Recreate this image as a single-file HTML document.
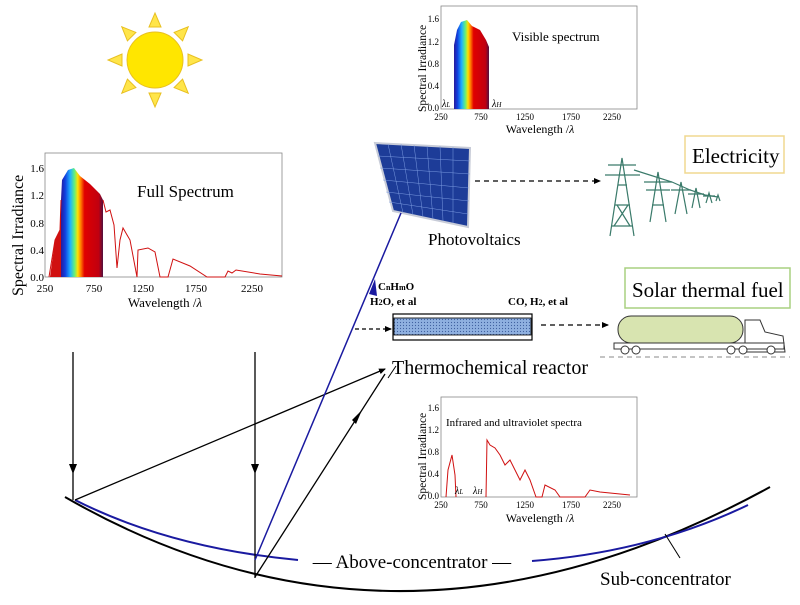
<!DOCTYPE html>
<html><head><meta charset="utf-8"><style>
body{margin:0;background:#fff;}
svg{display:block;font-family:"Liberation Serif",serif;}
</style></head><body>
<svg width="800" height="605" viewBox="0 0 800 605" xmlns="http://www.w3.org/2000/svg">
<defs>
<marker id="ah" markerWidth="8" markerHeight="8" refX="6" refY="4" orient="auto" markerUnits="userSpaceOnUse"><path d="M0,1 L7,4 L0,7 z" fill="#000"/></marker>
<linearGradient id="rb" x1="0" x2="1">
<stop offset="0" stop-color="#2a1a9a"/><stop offset="0.1" stop-color="#1040e0"/><stop offset="0.22" stop-color="#20b0ff"/><stop offset="0.32" stop-color="#60f080"/><stop offset="0.4" stop-color="#ffe000"/><stop offset="0.48" stop-color="#ff7000"/><stop offset="0.56" stop-color="#e00000"/><stop offset="0.9" stop-color="#c00010"/><stop offset="1" stop-color="#501040"/>
</linearGradient>
<pattern id="dots" width="3" height="3" patternUnits="userSpaceOnUse"><rect width="3" height="3" fill="#8fb0e0"/><circle cx="1.5" cy="1.5" r="0.6" fill="#4060a0"/></pattern>
</defs>

<!-- Sun -->
<g fill="#ffe54a" stroke="#e8c020" stroke-width="1">
<circle cx="155" cy="60" r="28" fill="#ffe600"/>
<g transform="translate(155,60)">
<polygon points="-6,-33 6,-33 0,-47"/>
<polygon points="-6,33 6,33 0,47"/>
<polygon points="-33,-6 -33,6 -47,0"/>
<polygon points="33,-6 33,6 47,0"/>
<g transform="rotate(45)"><polygon points="-6,-33 6,-33 0,-47"/><polygon points="-6,33 6,33 0,47"/><polygon points="-33,-6 -33,6 -47,0"/><polygon points="33,-6 33,6 47,0"/></g>
</g></g>

<!-- Full spectrum chart -->
<g>
<rect x="45" y="153" width="237" height="124" fill="#fff" stroke="#888" stroke-width="0.8"/>
<path d="M50,277 L55,240 L60,230 L61,200 L62,277 Z" fill="#d01010"/>
<path d="M61,277 L61,200 L62,180 L68,170 L74,168 L80,176 L90,184 L100,194 L103,200 L103,277 Z" fill="url(#rb)"/>
<path d="M49,277 L55,240 L60,230 L61,200 M103,200 L106,212 L110,210 L114,225 L117,268 L120,240 L123,228 L130,240 L137,277 L138,250 L148,248 L155,252 L160,277 L168,277 L173,259 L190,266 L207,277 L225,277 L228,271 L232,273 L236,270 L260,274 L282,276" fill="none" stroke="#d01010" stroke-width="1"/>
<text x="137" y="197" font-size="17">Full Spectrum</text>
<g font-size="11" text-anchor="end"><text x="44" y="172">1.6</text><text x="44" y="199">1.2</text><text x="44" y="227">0.8</text><text x="44" y="254">0.4</text><text x="44" y="281">0.0</text></g>
<g font-size="11" text-anchor="middle"><text x="45" y="292">250</text><text x="94" y="292">750</text><text x="143" y="292">1250</text><text x="196" y="292">1750</text><text x="252" y="292">2250</text></g>
<text x="165" y="307" font-size="13" text-anchor="middle">Wavelength /<tspan font-style="italic">λ</tspan></text>
<text transform="translate(23,296) rotate(-90)" font-size="16">Spectral Irradiance</text>
</g>

<!-- Visible chart -->
<g>
<rect x="441" y="6" width="196" height="103" fill="#fff" stroke="#888" stroke-width="0.8"/>
<path d="M454,109 L454,45 L457,30 L461,22 L467,20 L472,26 L480,30 L486,40 L489,47 L489,109 Z" fill="url(#rb)"/>
<text x="512" y="41" font-size="13">Visible spectrum</text>
<g font-size="9" text-anchor="end"><text x="439" y="22">1.6</text><text x="439" y="45">1.2</text><text x="439" y="67">0.8</text><text x="439" y="89">0.4</text><text x="439" y="111">0.0</text></g>
<g font-size="9" text-anchor="middle"><text x="441" y="120">250</text><text x="481" y="120">750</text><text x="525" y="120">1250</text><text x="571" y="120">1750</text><text x="612" y="120">2250</text></g>
<text x="540" y="133" font-size="12" text-anchor="middle">Wavelength /<tspan font-style="italic">λ</tspan></text>
<text transform="translate(426,112) rotate(-90)" font-size="11.5">Spectral Irradiance</text>
<text x="442" y="107" font-size="10" font-style="italic">λ<tspan font-size="7">L</tspan></text>
<text x="492" y="107" font-size="10" font-style="italic">λ<tspan font-size="7">H</tspan></text>
</g>

<!-- IR chart -->
<g>
<rect x="441" y="397" width="196" height="100" fill="#fff" stroke="#888" stroke-width="0.8"/>
<path d="M446,497 L448,470 L452,455 L455,475 L456,497 M486,497 L487,440 L490,445 L495,448 L500,455 L505,465 L510,460 L515,470 L520,480 L525,470 L530,480 L536,497 L542,497 L545,485 L555,490 L560,497 L585,497 L590,490 L600,492 L630,495" fill="none" stroke="#d01010" stroke-width="1"/>
<text x="446" y="426" font-size="11">Infrared and ultraviolet spectra</text>
<g font-size="9" text-anchor="end"><text x="439" y="411">1.6</text><text x="439" y="433">1.2</text><text x="439" y="455">0.8</text><text x="439" y="477">0.4</text><text x="439" y="499">0.0</text></g>
<g font-size="9" text-anchor="middle"><text x="441" y="508">250</text><text x="481" y="508">750</text><text x="525" y="508">1250</text><text x="571" y="508">1750</text><text x="612" y="508">2250</text></g>
<text x="540" y="522" font-size="12" text-anchor="middle">Wavelength /<tspan font-style="italic">λ</tspan></text>
<text transform="translate(426,500) rotate(-90)" font-size="11.5">Spectral Irradiance</text>
<text x="455" y="494" font-size="10" font-style="italic">λ<tspan font-size="7">L</tspan></text>
<text x="473" y="494" font-size="10" font-style="italic">λ<tspan font-size="7">H</tspan></text>
</g>

<!-- Solar panel -->
<polygon points="375,143 470,148 468,227 393,211" fill="#1d3c98" stroke="#c8ccd8" stroke-width="2"/>
<g stroke="#7a9ae0" stroke-width="0.5">
<line x1="388" y1="144" x2="403" y2="213"/><line x1="401" y1="144" x2="413" y2="215"/><line x1="414" y1="145" x2="423" y2="217"/><line x1="427" y1="146" x2="433" y2="219"/><line x1="440" y1="146" x2="443" y2="221"/><line x1="453" y1="147" x2="453" y2="223"/>
<line x1="378" y1="156" x2="470" y2="161"/><line x1="380" y1="168" x2="470" y2="174"/><line x1="383" y1="180" x2="469" y2="188"/><line x1="386" y1="192" x2="469" y2="201"/><line x1="389" y1="202" x2="468" y2="214"/>
</g>
<text x="428" y="245" font-size="17">Photovoltaics</text>

<!-- Electricity -->
<line x1="475" y1="181" x2="600" y2="181" stroke="#000" stroke-width="1.2" stroke-dasharray="5,4" marker-end="url(#ah)"/>
<rect x="685" y="136" width="99" height="37" fill="#fff" stroke="#f0d890" stroke-width="1.5"/>
<text x="692" y="163" font-size="21">Electricity</text>
<g stroke="#3a7a6a" stroke-width="1.2" fill="none">
<path d="M610,236 L622,158 L634,236 M612,226 L632,226 M615,205 L630,205 M618,185 L627,185 M605,175 L640,175 M608,165 L636,165 M614,226 L628,205 M630,226 L617,205"/>
<path d="M650,222 L658,172 L666,222 M644,182 L672,182 M646,190 L670,190 M652,205 L664,205"/>
<path d="M675,214 L681,182 L687,214 M671,190 L691,190"/>
<path d="M692,208 L696,188 L700,208 M688,194 L704,194"/>
<path d="M706,203 L709,193 L712,203 M703,196 L715,196 M716,201 L718,195 L720,201"/>
<path d="M634,170 L672,182 L690,190 L705,195 L718,197"/>
</g>

<!-- Reactor -->
<text x="378" y="290" font-size="11" font-weight="bold">C<tspan font-size="8">n</tspan>H<tspan font-size="8">m</tspan>O</text>
<text x="370" y="305" font-size="11" font-weight="bold">H<tspan font-size="8">2</tspan>O, et al</text>
<text x="508" y="305" font-size="11" font-weight="bold">CO, H<tspan font-size="8">2</tspan>, et al</text>
<rect x="393" y="314" width="139" height="26" fill="#fff" stroke="#000" stroke-width="1.2"/>
<rect x="394" y="318" width="137" height="17" fill="url(#dots)" stroke="#000" stroke-width="0.8"/>
<line x1="355" y1="329" x2="391" y2="329" stroke="#000" stroke-width="1.2" stroke-dasharray="4,3" marker-end="url(#ah)"/>
<line x1="541" y1="325" x2="608" y2="325" stroke="#000" stroke-width="1.2" stroke-dasharray="5,4" marker-end="url(#ah)"/>
<text x="392" y="374" font-size="20">Thermochemical reactor</text>
<line x1="388" y1="378" x2="396" y2="366" stroke="#000"/>

<!-- Solar thermal fuel -->
<rect x="625" y="268" width="165" height="40" fill="#fff" stroke="#a8d080" stroke-width="1.5"/>
<text x="632" y="297" font-size="21">Solar thermal fuel</text>
<g stroke="#333" stroke-width="1">
<rect x="618" y="316" width="125" height="27" rx="13" fill="#d8e4b0"/>
<path d="M745,320 L760,320 L765,332 L783,336 L785,352 L745,352 Z" fill="#fff"/>
<rect x="614" y="343" width="170" height="6" fill="#fff"/>
<g fill="#fff"><circle cx="625" cy="350" r="4"/><circle cx="636" cy="350" r="4"/><circle cx="731" cy="350" r="4"/><circle cx="743" cy="350" r="4"/><circle cx="771" cy="350" r="4"/></g>
</g>
<line x1="600" y1="357" x2="790" y2="357" stroke="#888" stroke-dasharray="5,4"/>

<!-- Concentrators -->
<path d="M65,497 Q400,690 770,487" fill="none" stroke="#000" stroke-width="2"/>
<path d="M75,500 Q170,548 298,560" fill="none" stroke="#1a1aa0" stroke-width="2"/>
<path d="M532,561 Q650,552 748,505" fill="none" stroke="#1a1aa0" stroke-width="2"/>
<text x="412" y="568" font-size="19" text-anchor="middle">— Above-concentrator —</text>
<line x1="665" y1="534" x2="680" y2="558" stroke="#000"/>
<text x="600" y="585" font-size="19">Sub-concentrator</text>

<!-- Rays -->
<line x1="73" y1="352" x2="73" y2="500" stroke="#000" stroke-width="1.3"/>
<path d="M69,464 L73,474 L77,464 z" fill="#000"/>
<line x1="255" y1="352" x2="255" y2="578" stroke="#000" stroke-width="1.3"/>
<path d="M251,464 L255,474 L259,464 z" fill="#000"/>
<line x1="75" y1="500" x2="385" y2="369" stroke="#000" stroke-width="1.3" marker-end="url(#ah)"/>
<line x1="255" y1="577" x2="385" y2="374" stroke="#000" stroke-width="1.3"/>
<path d="M352,420 L362,410 L356,424 z" fill="#000"/>
<line x1="255" y1="560" x2="401" y2="213" stroke="#1a1aa0" stroke-width="1.5"/>
<path d="M369,294 L375,279 L377,296 z" fill="#1a1aa0"/>
</svg>
</body></html>
